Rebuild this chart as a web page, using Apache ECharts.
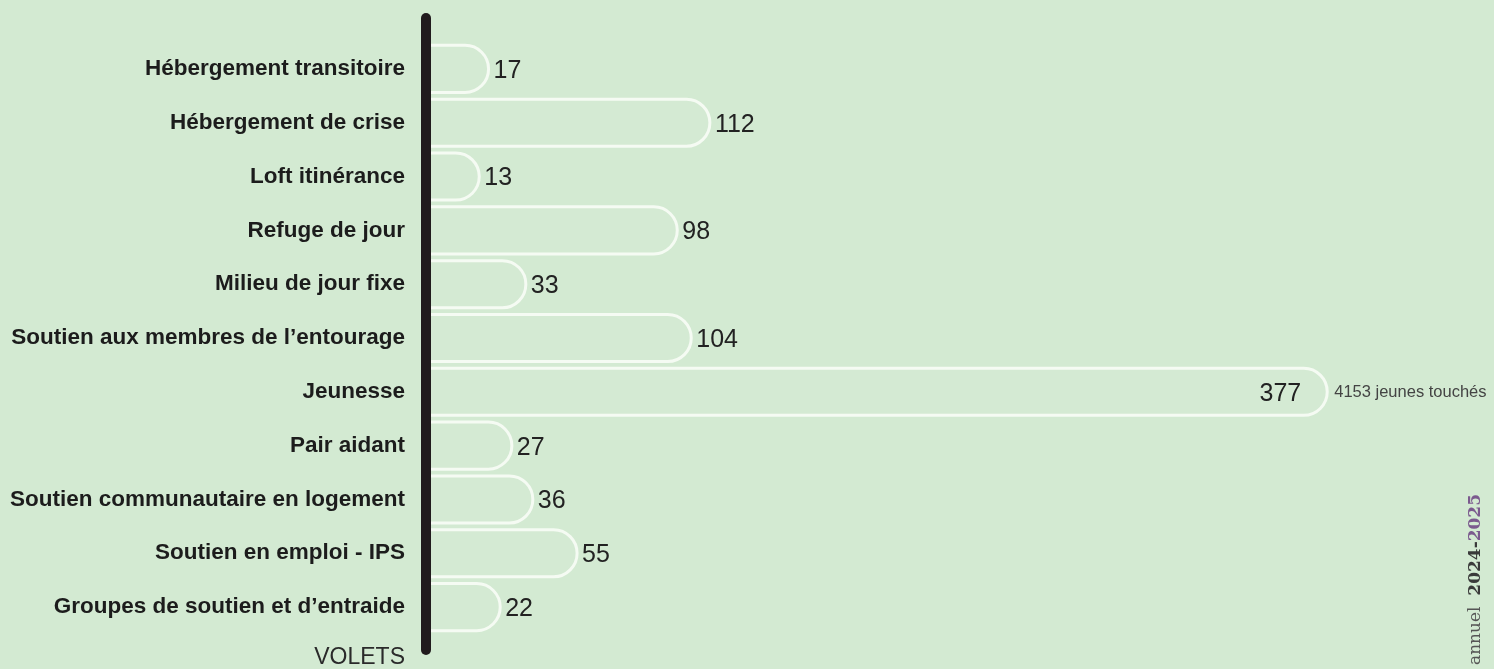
<!DOCTYPE html>
<html>
<head>
<meta charset="utf-8">
<script src="https://cdn.jsdelivr.net/npm/echarts@6/dist/echarts.min.js"></script>
<style>
  html, body { margin: 0; padding: 0; background: #d3ead2; }
  #chart { width: 1494px; height: 669px; }
</style>
</head>
<body>
<div id="chart"></div>
<script>
const categories = [
  'Hébergement transitoire',
  'Hébergement de crise',
  'Loft itinérance',
  'Refuge de jour',
  'Milieu de jour fixe',
  'Soutien aux membres de l\u2019entourage',
  'Jeunesse',
  'Pair aidant',
  'Soutien communautaire en logement',
  'Soutien en emploi - IPS',
  'Groupes de soutien et d\u2019entraide'
]
const values = [17, 112, 13, 98, 33, 104, 377, 27, 36, 55, 22]
const notes = ['', '', '', '', '', '', '4153 jeunes touchés', '', '', '', '']

const xMin = -9
const xMax = 440
const maxValue = Math.max(...values)
const font = "'Liberation Sans', Arial, sans-serif"

const chart = echarts.init(document.getElementById('chart'))

// each bar: white outlined pill starting behind the black axis
function renderBar(params, api) {
  const v = api.value(0)
  const i = api.value(1)
  const end = api.coord([v, i])
  const start = api.coord([xMin, i])
  const h = api.size([0, 1])[1] * 0.875
  const children = [
    {
      type: 'rect',
      shape: { x: start[0], y: end[1] - h / 2, width: end[0] - start[0], height: h, r: [0, h / 2, h / 2, 0] },
      style: { fill: 'rgba(255,255,255,0.04)', stroke: '#f5fbf3', lineWidth: 3 }
    }
  ]
  const inside = v === maxValue
  children.push({
    type: 'text',
    x: inside ? end[0] - 26 : end[0] + 5,
    y: end[1] + 2,
    style: {
      text: String(v),
      fill: '#222',
      font: '25px ' + font,
      align: inside ? 'right' : 'left',
      verticalAlign: 'middle'
    }
  })
  if (notes[i]) {
    children.push({
      type: 'text',
      x: end[0] + 7,
      y: end[1] + 1,
      style: { text: notes[i], fill: '#444', font: '16.5px ' + font, align: 'left', verticalAlign: 'middle' }
    })
  }
  return { type: 'group', children: children }
}

const option = {
  backgroundColor: '#d3ead2',
  animation: false,
  grid: { left: 428, right: 20, top: 42, bottom: 35 },
  xAxis: {
    type: 'value',
    min: xMin,
    max: xMax,
    show: false
  },
  yAxis: {
    type: 'category',
    data: categories,
    inverse: true,
    axisLine: { show: false },
    axisTick: { show: false },
    axisLabel: {
      margin: 23,
      fontSize: 22.5,
      fontWeight: 'bold',
      fontFamily: font,
      color: '#1c1c1c',
      padding: [5, 0, 0, 0]
    }
  },
  graphic: [
    {
      type: 'line',
      z: 100,
      shape: { x1: 426, y1: 18, x2: 426, y2: 650 },
      style: { stroke: '#211b1d', lineWidth: 10, lineCap: 'round' }
    },
    {
      type: 'text',
      x: 405,
      y: 658,
      style: {
        text: 'VOLETS',
        font: '23px ' + font,
        fill: '#2a2a2a',
        align: 'right',
        verticalAlign: 'middle'
      }
    },
    {
      type: 'text',
      x: 1476,
      y: 494,
      rotation: Math.PI / 2,
      style: {
        text: '{a|Rapport annuel  }{b|2024-}{c|2025}',
        align: 'right',
        verticalAlign: 'middle',
        rich: {
          a: { font: "17px 'DejaVu Serif', serif", fill: '#555' },
          b: { font: "bold 17px 'DejaVu Serif', serif", fill: '#3a3a3a' },
          c: { font: "bold 17px 'DejaVu Serif', serif", fill: '#7b5a8e' }
        }
      }
    }
  ],
  series: [
    {
      type: 'custom',
      renderItem: renderBar,
      encode: { x: 0, y: 1 },
      data: values.map((v, i) => [v, i])
    }
  ]
}

chart.setOption(option)
</script>
</body>
</html>
